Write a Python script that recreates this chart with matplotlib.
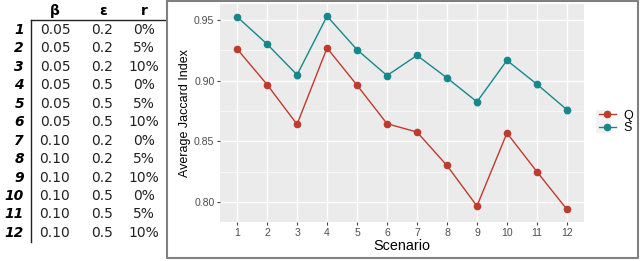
import numpy as np
import matplotlib.pyplot as plt
from matplotlib.lines import Line2D

# table on the left
rows = ['1', '2', '3', '4', '5', '6', '7', '8', '9', '10', '11', '12']
beta = ['0.05'] * 6 + ['0.10'] * 6
eps = ['0.2', '0.2', '0.2', '0.5', '0.5', '0.5'] * 2
r = ['0%', '5%', '10%'] * 4

# chart data
scenario = np.arange(1, 13)
q_mean = [0.926, 0.8967, 0.864, 0.9268, 0.8962, 0.8645, 0.8576, 0.8301, 0.7967, 0.8568, 0.825, 0.794]
q_err = [0.001, 0.0012, 0.0018, 0.001, 0.0012, 0.0016, 0.001, 0.0012, 0.0018, 0.001, 0.0012, 0.0015]
s_mean = [0.9525, 0.930, 0.9047, 0.953, 0.9254, 0.9041, 0.9207, 0.9022, 0.8825, 0.9166, 0.897, 0.876]
s_err = [0.0015, 0.0018, 0.0022, 0.0015, 0.0018, 0.0022, 0.0017, 0.002, 0.0025, 0.0017, 0.002, 0.0025]

red = '#BF3B2C'
teal = '#15888C'

W, H = 640, 261
fig = plt.figure(figsize=(W / 100, H / 100), dpi=100)

def fx(x):
    return x / W

def fy(y):
    return 1 - y / H

# table
fig.text(fx(55), fy(11), 'β', ha='center', va='center', fontsize=10, fontweight='bold')
fig.text(fx(103), fy(11), 'ε', ha='center', va='center', fontsize=10, fontweight='bold')
fig.text(fx(144), fy(11), 'r', ha='center', va='center', fontsize=10, fontweight='bold')
for i in range(len(rows)):
    y = 30 + i * 18.45
    fig.text(fx(24), fy(y), rows[i], ha='right', va='center', fontsize=10,
             fontweight='heavy', style='italic')
    fig.text(fx(55), fy(y), beta[i], ha='center', va='center', fontsize=10, color='#222222')
    fig.text(fx(102), fy(y), eps[i], ha='center', va='center', fontsize=10, color='#222222')
    fig.text(fx(144), fy(y), r[i], ha='center', va='center', fontsize=10, color='#222222')
fig.add_artist(Line2D([fx(31), fx(31)], [fy(20), fy(242)], color='#222222', lw=1))
fig.add_artist(Line2D([fx(31), fx(165)], [fy(19.5), fy(19.5)], color='#222222', lw=1))

# frame around the chart
fig.add_artist(Line2D([fx(167), fx(638), fx(638), fx(167), fx(167)],
                      [fy(1), fy(1), fy(258), fy(258), fy(1)], color='#808080', lw=1.5))

ax = fig.add_axes([fx(220), fy(222), fx(584) - fx(220), fy(4) - fy(222)])
ax.set_facecolor('#EBEBEB')
for sp in ax.spines.values():
    sp.set_visible(False)

ax.set_xlim(0.43, 12.57)
ax.set_ylim(0.7836, 0.963)
ax.set_xticks(scenario)
ax.set_yticks([0.80, 0.85, 0.90, 0.95])
ax.set_yticklabels(['0.80', '0.85', '0.90', '0.95'])
ax.set_yticks([0.825, 0.875, 0.925], minor=True)
ax.grid(True, which='major', color='white', lw=1)
ax.grid(True, which='minor', axis='y', color='white', lw=0.5)
ax.set_axisbelow(True)
for lab in ax.get_xticklabels() + ax.get_yticklabels():
    lab.set_family('Liberation Sans')
ax.tick_params(axis='both', which='major', labelsize=7.6, labelcolor='#4D4D4D',
               color='#444444', length=2.5, width=0.8, pad=1.5)
ax.tick_params(axis='y', which='minor', length=0)

ax.errorbar(scenario, q_mean, yerr=q_err, color=red, marker='o', ms=4.5, lw=1,
            capsize=1.5, elinewidth=1)
ax.errorbar(scenario, s_mean, yerr=s_err, color=teal, marker='o', ms=4.5, lw=1,
            capsize=1.5, elinewidth=1)

ax.set_xlabel('Scenario', fontsize=10.4, family='Liberation Sans', labelpad=1)
ax.set_ylabel('Average Jaccard Index', fontsize=9, family='Liberation Sans', labelpad=2)

# legend
fig.add_artist(plt.Rectangle((fx(596), fy(133)), fx(15), fy(110) - fy(133),
                             facecolor='#F2F2F2', edgecolor='none'))
h = [Line2D([], [], color=red, marker='o', ms=4.5, lw=1),
     Line2D([], [], color=teal, marker='o', ms=4.5, lw=1)]
leg = fig.legend(h, ['Q', 'S'], loc='center left', bbox_to_anchor=(fx(588), fy(122)),
                 frameon=False, prop={'family': 'Liberation Sans', 'size': 9},
                 handlelength=1.3, handletextpad=0.6, labelspacing=0.05)

fig.savefig('out.png', dpi=100)
